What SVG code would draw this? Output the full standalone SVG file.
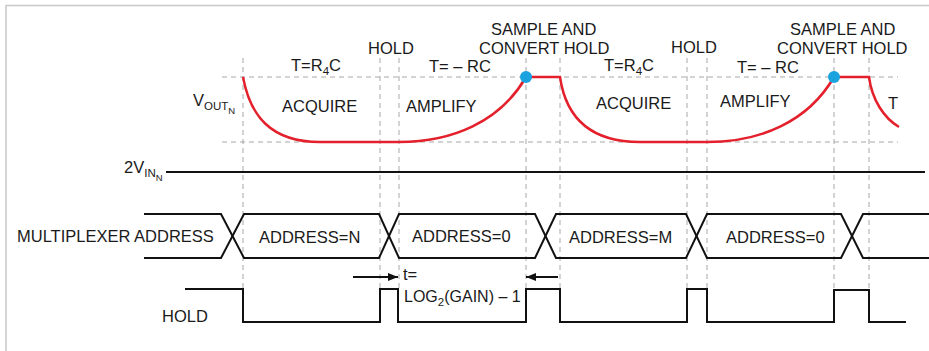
<svg xmlns="http://www.w3.org/2000/svg" width="929" height="351" viewBox="0 0 929 351">
<defs>
<style>
text{font-family:"Liberation Sans",Arial,sans-serif;font-size:16.5px;fill:#1a1a1a}
.sub{font-size:11.5px}
.sub2{font-size:9.5px}
.dash{stroke:#a8a8a8;stroke-width:1;stroke-dasharray:5 4;fill:none}
.sig{stroke:#111;stroke-width:2;fill:none}
.red{stroke:#e3202b;stroke-width:2.5;fill:none}
.dot{fill:#1ba3e0}
</style>
<marker id="ah" viewBox="0 0 10 8" refX="10" refY="4" markerWidth="10" markerHeight="8" markerUnits="userSpaceOnUse" orient="auto">
<path d="M0,0 L10,4 L0,8 Z" fill="#111"/>
</marker>
</defs>
<rect x="0" y="0" width="929" height="351" fill="#fff"/>
<path d="M6,351 V5.5 H929" fill="none" stroke="#c8c8c8" stroke-width="1.5"/>

<g id="gridlines">
<path class="dash" d="M222,77 H898 M222,142 H898"/>
<path class="dash" d="M243,58 V289 M380,58 V289 M399,58 V289 M526,58 V289 M560,58 V289 M687,58 V289 M707,58 V289 M834,58 V289 M869,58 V289"/>
</g>

<g id="vout">
<path class="red" d="M243,77 C250,115 270,142 320,142 H399 C452,142 500,122 526,77 H560 C566,118 590,142 640,142 H707 C760,142 808,122 834,77 H869 C872,100 884,118 899,127"/>
<circle class="dot" cx="526" cy="77" r="6"/>
<circle class="dot" cx="834" cy="77" r="6"/>
</g>

<g id="vin">
<path class="sig" d="M166,172 H925"/>
</g>

<g id="address">
<path class="sig" d="M144,214 H221 L244,258 H379 L399,214 H535 L556,258 H686 L707,214 H841 L863,258 H929"/>
<path class="sig" d="M144,258 H221 L244,214 H379 L399,258 H535 L556,214 H686 L707,258 H841 L863,214 H929"/>
</g>

<g id="hold">
<path class="sig" d="M185,289 H243 V322 H380 V289 H398 V322 H526 V289 H560 V322 H687 V289 H707 V322 H834 V290 H869 V322 H906"/>
</g>

<g id="connectors">
<path class="sig" d="M353,277 H398" marker-end="url(#ah)" stroke-width="1.5"/>
<path class="sig" d="M558,277 H526" marker-end="url(#ah)" stroke-width="1.5"/>
</g>

<g id="labels">
<text x="193" y="106">V<tspan class="sub" dy="4">OUT</tspan><tspan class="sub2" dy="4">N</tspan></text>
<text x="124" y="173">2V<tspan class="sub" dy="4">IN</tspan><tspan class="sub2" dy="4">N</tspan></text>
<text x="17" y="242">MULTIPLEXER ADDRESS</text>
<text x="162" y="322">HOLD</text>

<text x="291" y="71">T=R<tspan class="sub" dy="4">4</tspan><tspan dy="-4">C</tspan></text>
<text x="282" y="112">ACQUIRE</text>
<text x="368" y="54">HOLD</text>
<text x="429" y="72">T= – RC</text>
<text x="406" y="112">AMPLIFY</text>
<text x="491" y="35">SAMPLE AND</text>
<text x="479" y="54">CONVERT HOLD</text>

<text x="604" y="71">T=R<tspan class="sub" dy="4">4</tspan><tspan dy="-4">C</tspan></text>
<text x="596" y="109">ACQUIRE</text>
<text x="671" y="53">HOLD</text>
<text x="737" y="73">T= – RC</text>
<text x="720" y="107">AMPLIFY</text>
<text x="790" y="35">SAMPLE AND</text>
<text x="777" y="54">CONVERT HOLD</text>
<text x="888" y="109">T</text>

<text x="259" y="243">ADDRESS=N</text>
<text x="412" y="242">ADDRESS=0</text>
<text x="569" y="243">ADDRESS=M</text>
<text x="726" y="243">ADDRESS=0</text>

<text x="403" y="280">t=</text>
<text x="404" y="302" style="font-size:16px">LOG<tspan class="sub" dy="4">2</tspan><tspan dy="-4">(GAIN) – 1</tspan></text>
</g>
</svg>
